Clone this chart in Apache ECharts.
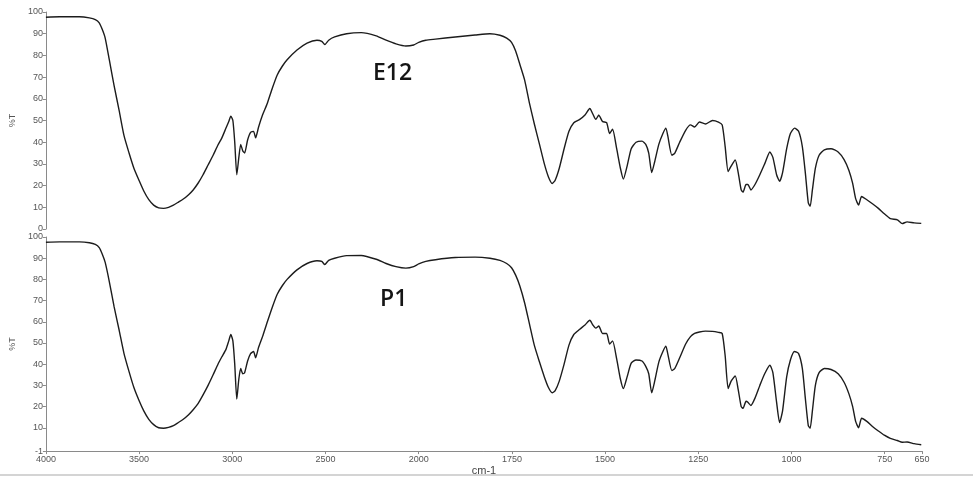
<!DOCTYPE html>
<html>
<head>
<meta charset="utf-8">
<script src="https://cdn.jsdelivr.net/npm/echarts@6/dist/echarts.min.js"></script>
<style>html,body{margin:0;padding:0;background:#fff;}#c{width:973px;height:477px;}</style>
</head>
<body>
<div id="c"></div>
<script>
// Wavenumbers (cm-1) and %T for each spectrum
const e12Wave = [4000,3926,3820,3767,3735,3714,3698,3682,3660,3634,3607,3581,3554,3528,3501,3475,3448,3422,3395,3369,3342,3316,3289,3263,3236,3210,3183,3157,3130,3103,3077,3056,3034,3019,3008,2997,2987,2976,2965,2955,2944,2934,2918,2902,2886,2875,2859,2838,2812,2785,2759,2732,2706,2653,2599,2546,2520,2504,2483,2451,2387,2308,2228,2175,2122,2069,2027,2000,1981,1955,1902,1849,1809,1782,1764,1751,1740,1729,1716,1703,1690,1676,1663,1652,1642,1634,1623,1610,1597,1584,1568,1554,1541,1533,1525,1517,1507,1496,1488,1480,1469,1459,1451,1441,1430,1417,1401,1391,1383,1375,1367,1356,1345,1337,1332,1321,1313,1300,1284,1271,1260,1247,1231,1212,1196,1186,1178,1170,1162,1151,1143,1135,1130,1122,1117,1109,1098,1085,1072,1058,1050,1040,1032,1024,1013,1003,992,981,971,963,955,950,944,936,926,912,894,875,859,846,836,828,820,812,798,782,767,751,735,716,703,690,671,652];
const e12T = [97.6,97.8,97.8,97.3,96.5,95,92,88,78,66,54.5,43,35,28,22.5,17.5,13.5,11,9.7,9.5,10,11,12.4,13.8,15.7,18,21.2,25,29.5,34,38.7,42,46.5,49.5,52,50,40,25,33,39,36,35,41,44.5,45,42,47,52.5,58,65,71,75,78,82.5,85.7,87,86.5,85,87,88.5,90,90.5,89,87,85.3,84.3,84.8,86,87,87.5,88.5,89.4,90,89.3,88,86,82,76,68.7,58,48.5,39,30,24,21,22.5,28,37,45,49,50.5,52.5,55.5,53,50.5,52.5,49.5,49,44,46,37,28,23,29,37,40,40.5,39,35,26,31,39,44,46.5,43,34,35,40,45.5,48,47,49.3,48.4,50,49.3,48,38,26.5,29,31.8,26,18,17,20.5,20.5,18,20.5,25,30,35.5,33,25,22,26,37,44,46.5,45,38,26,12,10.5,18,28,34,36.5,37,35.5,32,27,21,14,11,15,13.5,11.5,9.5,7,4.8,4.2,2.5,3.3,2.8,2.6];

const p1Wave = e12Wave;
const p1T = [97.5,97.7,97.7,97.3,96.5,95,92,88,79,67,56,45,36.5,29,23,18,14,11.5,10,9.8,10.2,11,12.5,14,16,18.5,21.5,25.5,30,35,40,43.5,47,51,54,51,40,23.5,33,38,35.5,36,41.5,45,46,43,48,53,60,67,73,77,80,84.5,87.5,88.8,88.5,87,89,90,91.2,91.3,89.5,87.5,86,85.3,86,87.3,88.5,89.3,90.3,90.5,90,89,87.5,85.5,82,77,69,59,49,41,34,29,26.5,27.5,32,40,49,54,56.5,58.5,60.7,58.5,57,58,54.5,54.5,49.5,51,42.5,33,28.5,34,40.5,42,41.5,39,35.5,26.5,32,41,46,48.5,45,37,38,43,49.5,53,54.5,55.2,55.6,55.5,55,54.5,44,28.5,32,34.5,28,20,19.2,22.5,22,20.5,24,30,35.5,39.5,36,22,12.5,18,34,42,46,45,38,24,11,9.8,18,30,36,38,37.5,35.5,31.5,26,20,13,10,14.5,13,10.5,8.5,6.5,5,4,3.2,3.3,2.5,2.0];

const xTickLabels = [4000,3500,3000,2500,2000,1750,1500,1250,1000,750,650];
const yTicksTop = [0,10,20,30,40,50,60,70,80,90,100];
const yTicksBottom = [-1,10,20,30,40,50,60,70,80,90,100];

// Piecewise scale: 4000-2000 compressed (half scale), 2000-650 expanded
function toU(w){ return w >= 2000 ? 4000 - w : 2000 + (2000 - w) * 2; }
function fromU(u){ return u <= 2000 ? 4000 - u : 2000 - (u - 2000) / 2; }

const xTickU = xTickLabels.map(toU);
const axisGray = '#8a8a8a';
const labelStyle = {color:'#555', fontSize:9, fontFamily:'Liberation Sans, Arial, sans-serif'};

function xAxisDef(gi, show){
  return {
    type:'value', gridIndex:gi, min:0, max:4700, show:show,
    name: show ? 'cm-1' : '', nameLocation:'middle', nameGap:13,
    nameTextStyle:{color:'#444', fontSize:11, fontFamily:'Liberation Sans, Arial, sans-serif'},
    axisLine:{show:true, onZero:false, lineStyle:{color:axisGray, width:1}},
    axisTick:{show:true, length:3, customValues:xTickU, lineStyle:{color:axisGray}},
    axisLabel:{show:true, margin:4, customValues:xTickU, formatter:v=>String(Math.round(fromU(v))), ...labelStyle},
    splitLine:{show:false}
  };
}
function yAxisDef(gi, min, ticks){
  return {
    type:'value', gridIndex:gi, min:min, max:100,
    name:'%T', nameLocation:'middle', nameGap:22, nameRotate:90,
    nameTextStyle:{color:'#555', fontSize:9, fontFamily:'Liberation Sans, Arial, sans-serif'},
    axisLine:{show:true, onZero:false, lineStyle:{color:axisGray, width:1}},
    axisTick:{show:true, length:3, customValues:ticks, lineStyle:{color:axisGray}},
    axisLabel:{show:true, margin:3, customValues:ticks, ...labelStyle},
    splitLine:{show:false}
  };
}

const chart = echarts.init(document.getElementById('c'), null, {renderer:'canvas'});
chart.setOption({
  animation:false,
  backgroundColor:'#fff',
  grid:[
    {left:36, top:12, width:886, height:217},
    {left:36, top:237, width:886, height:216}
  ],
  xAxis:[xAxisDef(0,false), xAxisDef(1,true)],
  yAxis:[yAxisDef(0,0,yTicksTop), yAxisDef(1,-1,yTicksBottom)],
  series:[
    {type:'line', xAxisIndex:0, yAxisIndex:0, showSymbol:false, smooth:0.2,
     lineStyle:{color:'#1c1c1c', width:1.4},
     data:e12Wave.map((w,i)=>[toU(w), e12T[i]])},
    {type:'line', xAxisIndex:1, yAxisIndex:1, showSymbol:false, smooth:0.2,
     lineStyle:{color:'#1c1c1c', width:1.4},
     data:p1Wave.map((w,i)=>[toU(w), p1T[i]])}
  ],
  graphic:[
    {type:'text', left:373, top:62, style:{text:'E12', font:'600 23px "Open Sans", sans-serif', fill:'#151515'}},
    {type:'text', left:380, top:288, style:{text:'P1', font:'600 23px "Open Sans", sans-serif', fill:'#151515'}},
    {type:'rect', shape:{x:0, y:474, width:973, height:2}, style:{fill:'#d4d4d4'}}
  ]
});
</script>
</body>
</html>
